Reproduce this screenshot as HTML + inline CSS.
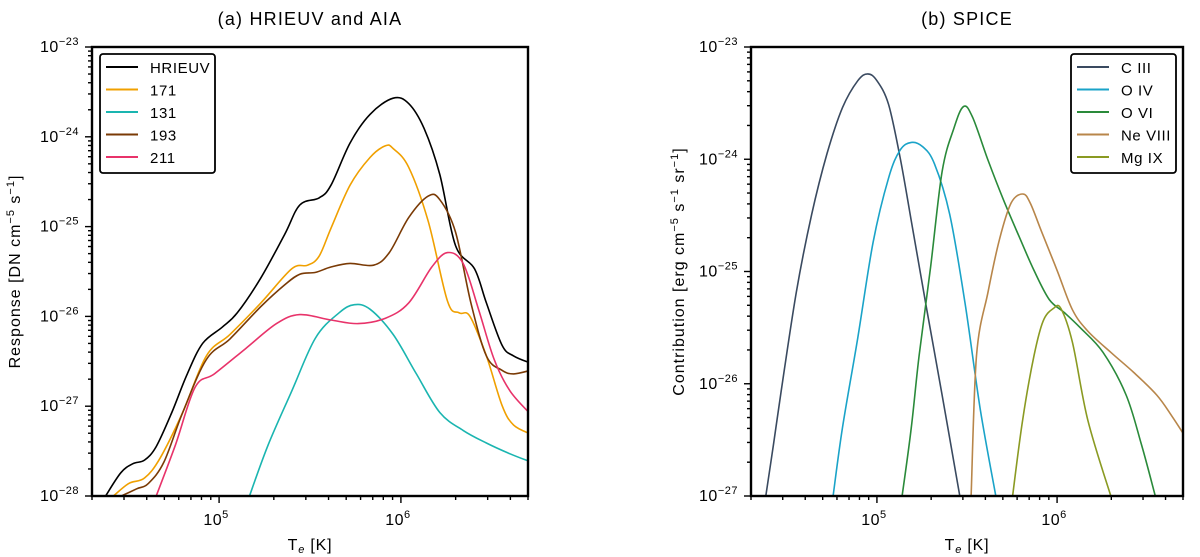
<!DOCTYPE html>
<html><head><meta charset="utf-8"><style>
body{margin:0;background:#fff;}
svg{display:block;font-family:"Liberation Sans",sans-serif;}
</style></head><body>
<svg id="c" width="1200" height="557" viewBox="0 0 1200 557"></svg>
<script>
// ---- Panel (a) data: log10(T) and log10(response) ----
const hriT=[4.376,4.46,4.526,4.59,4.654,4.74,4.825,4.91,5.017,5.10,5.23,5.36,5.444,5.55,5.615,5.72,5.83,5.957,6.043,6.128,6.214,6.30,6.405,6.47,6.556,6.62,6.714];
const hriV=[-28,-27.74,-27.64,-27.6,-27.45,-27.07,-26.64,-26.3,-26.12,-25.96,-25.57,-25.09,-24.76,-24.68,-24.54,-24.07,-23.75,-23.57,-23.63,-23.91,-24.42,-25.21,-25.47,-25.85,-26.32,-26.44,-26.52];
const a171T=[4.419,4.504,4.59,4.675,4.80,4.93,5.06,5.23,5.40,5.487,5.55,5.615,5.72,5.83,5.915,5.957,6.043,6.15,6.256,6.32,6.38,6.47,6.556,6.62,6.714];
const a171V=[-28,-27.86,-27.8,-27.58,-27.07,-26.44,-26.2,-25.85,-25.47,-25.43,-25.33,-25.02,-24.54,-24.23,-24.1,-24.13,-24.34,-24.94,-25.83,-25.96,-26.0,-26.44,-26.99,-27.21,-27.31];
const a131T=[5.167,5.27,5.40,5.53,5.66,5.744,5.83,5.957,6.085,6.214,6.342,6.47,6.6,6.714];
const a131V=[-28,-27.43,-26.83,-26.24,-25.96,-25.87,-25.92,-26.2,-26.64,-27.07,-27.27,-27.41,-27.53,-27.62];
const a193T=[4.462,4.547,4.611,4.697,4.80,4.93,5.06,5.23,5.36,5.444,5.53,5.615,5.72,5.85,5.936,6.043,6.15,6.214,6.30,6.385,6.47,6.556,6.62,6.714];
const a193V=[-28,-27.92,-27.86,-27.62,-27.07,-26.48,-26.25,-25.89,-25.65,-25.53,-25.51,-25.45,-25.41,-25.43,-25.29,-24.90,-24.66,-24.70,-25.06,-25.85,-26.44,-26.6,-26.64,-26.6];
const a211T=[4.654,4.76,4.868,4.974,5.145,5.316,5.444,5.615,5.765,5.915,6.043,6.17,6.256,6.342,6.427,6.513,6.6,6.714];
const a211V=[-28,-27.43,-26.79,-26.64,-26.36,-26.08,-25.98,-26.04,-26.08,-26.02,-25.85,-25.45,-25.29,-25.41,-25.92,-26.48,-26.83,-27.09];
// ---- Panel (b) data ----
const c3T=[4.383,4.426,4.468,4.553,4.638,4.723,4.809,4.894,4.949,5.0,5.064,5.128,5.191,5.277,5.362,5.46];
const c3V=[-27,-26.54,-26.07,-25.18,-24.49,-23.95,-23.54,-23.30,-23.24,-23.30,-23.51,-23.98,-24.55,-25.34,-26.10,-27];
const o4T=[4.757,4.809,4.894,4.979,5.064,5.128,5.191,5.255,5.319,5.404,5.489,5.574,5.66];
const o4V=[-27,-26.39,-25.59,-24.74,-24.17,-23.92,-23.85,-23.89,-24.04,-24.49,-25.28,-26.23,-27];
const o6T=[5.14,5.191,5.234,5.298,5.362,5.426,5.481,5.532,5.617,5.702,5.787,5.872,5.957,6.043,6.128,6.255,6.383,6.468,6.545];
const o6V=[-27,-26.39,-25.75,-24.96,-24.11,-23.73,-23.53,-23.63,-24.01,-24.36,-24.68,-24.99,-25.25,-25.37,-25.5,-25.72,-26.1,-26.54,-27];
const ne8T=[5.523,5.553,5.617,5.681,5.745,5.809,5.851,5.915,6.0,6.085,6.17,6.298,6.426,6.553,6.638,6.715];
const ne8V=[-27,-25.75,-25.18,-24.71,-24.39,-24.31,-24.39,-24.65,-24.99,-25.34,-25.53,-25.72,-25.9,-26.1,-26.29,-26.48];
const mg9T=[5.753,5.809,5.872,5.923,5.979,6.021,6.085,6.17,6.298];
const mg9V=[-27,-26.32,-25.75,-25.44,-25.33,-25.33,-25.63,-26.32,-27];
const seriesA=["HRIEUV","171","131","193","211"];
const seriesB=["C III","O IV","O VI","Ne VIII","Mg IX"];

const NS="http://www.w3.org/2000/svg";
const svg=document.getElementById('c');
function el(tag,attrs,parent){const e=document.createElementNS(NS,tag);for(const k in attrs)e.setAttribute(k,attrs[k]);(parent||svg).appendChild(e);return e;}
const XMIN=Math.log10(2e4),XMAX=Math.log10(5e6),TOP=47,BOT=496;

function smoothPath(P){
  let d='M'+P[0][0].toFixed(1)+','+P[0][1].toFixed(1);
  for(let i=0;i<P.length-1;i++){
    const p0=P[Math.max(0,i-1)],p1=P[i],p2=P[i+1],p3=P[Math.min(P.length-1,i+2)];
    const t=0.17;
    const c1=[p1[0]+(p2[0]-p0[0])*t,p1[1]+(p2[1]-p0[1])*t];
    const c2=[p2[0]-(p3[0]-p1[0])*t,p2[1]-(p3[1]-p1[1])*t];
    d+=' C'+c1.map(v=>v.toFixed(1)).join(',')+' '+c2.map(v=>v.toFixed(1)).join(',')+' '+p2[0].toFixed(1)+','+p2[1].toFixed(1);
  }
  return d;
}

function panel(id,x0,x1,ymin,ymax,title,ytitle,ser,names,colors,leg){
  const g=el('g',{});
  
  
  const sx=v=>x0+(v-XMIN)/(XMAX-XMIN)*(x1-x0);
  const sy=v=>BOT-(v-ymin)/(ymax-ymin)*(BOT-TOP);
  const clipId='clip'+id;
  const cp=el('clipPath',{id:clipId},g);el('rect',{x:x0,y:TOP,width:x1-x0,height:BOT-TOP},cp);
  for(let d=4;d<=6;d++)for(let m=1;m<10;m++){const v=d+Math.log10(m);if(v<XMIN-1e-9||v>XMAX+1e-9)continue;const x=sx(v);
    const t=el('line',{x1:x,x2:x,y1:BOT,y2:BOT+(m==1?7:4),stroke:'#000','stroke-width':1.4},g);
    
    if(m==1){const tx=el('text',{x:x-3,y:BOT+29,'font-size':16,'text-anchor':'middle','letter-spacing':0.5},g);tx.innerHTML='10<tspan dy="-7" font-size="11">'+d+'</tspan>';
      }}
  for(let d=ymin;d<=ymax;d++)for(let m=1;m<10;m++){const v=d+Math.log10(m);if(v>ymax+1e-9)continue;const y=sy(v);
    const t=el('line',{x1:x0-(m==1?7:4),x2:x0,y1:y,y2:y,stroke:'#000','stroke-width':1.4},g);
    
    if(m==1){const tx=el('text',{x:x0-13,y:y+5,'font-size':16,'text-anchor':'end','letter-spacing':0.5},g);tx.innerHTML='10<tspan dy="-7" font-size="11">\u2212'+(-d)+'</tspan>';
      }}
  const lg=el('g',{'clip-path':'url(#'+clipId+')'},g);
  ser.forEach((s,i)=>{const P=s[0].map((t,j)=>[sx(t),sy(s[1][j])]);
    const p=el('path',{d:smoothPath(P),fill:'none',stroke:colors[i],'stroke-width':1.6,'stroke-linejoin':'round'},lg);
    });
  const fr=el('rect',{x:x0,y:TOP,width:x1-x0,height:BOT-TOP,fill:'none',stroke:'#000','stroke-width':2.4},g);
  
  const tt=el('text',{x:(x0+x1)/2,y:25,'font-size':18,'text-anchor':'middle','letter-spacing':1.2},g);tt.textContent=title;
  
  const xt=el('text',{x:(x0+x1)/2,y:550,'font-size':16,'text-anchor':'middle','letter-spacing':0.8},g);xt.innerHTML='T<tspan dy="3" font-size="11" font-style="italic">e</tspan><tspan dy="-3"> [K]</tspan>';
  
  const yt=el('text',{x:0,y:0,'font-size':16,'text-anchor':'middle','letter-spacing':1,transform:'translate('+ytitle[0]+','+(TOP+BOT)/2+') rotate(-90)'},g);yt.innerHTML=ytitle[1];
  
  const L=el('g',{},g);
  el('rect',{x:leg[0],y:54,width:leg[1],height:119,rx:3,fill:'#fff',stroke:'#000','stroke-width':1.8},L);
  names.forEach((n,i)=>{const y=67+i*22.5;
    const e=el('g',{},L);
    el('line',{x1:leg[0]+6,x2:leg[0]+38,y1:y,y2:y,stroke:colors[i],'stroke-width':2},e);
    const t=el('text',{x:leg[0]+50,y:y+6,'font-size':15,'letter-spacing':0.6},e);t.textContent=n;});
}
panel('a',92,528,-28,-23,'(a) HRIEUV and AIA',[20,'Response [DN cm<tspan dy="-6" font-size="11">\u22125</tspan><tspan dy="6"> s</tspan><tspan dy="-6" font-size="11">\u22121</tspan><tspan dy="6">]</tspan>'],
  [[hriT,hriV],[a171T,a171V],[a131T,a131V],[a193T,a193V],[a211T,a211V]],seriesA,
  ['#000','#f0a000','#1ab5b0','#7a3a05','#e8336a'],[100,115]);
panel('b',751,1183,-27,-23,'(b) SPICE',[684,'Contribution [erg cm<tspan dy="-6" font-size="11">\u22125</tspan><tspan dy="6"> s</tspan><tspan dy="-6" font-size="11">\u22121</tspan><tspan dy="6"> sr</tspan><tspan dy="-6" font-size="11">\u22121</tspan><tspan dy="6">]</tspan>'],
  [[c3T,c3V],[o4T,o4V],[o6T,o6V],[ne8T,ne8V],[mg9T,mg9V]],seriesB,
  ['#3a4a60','#1aa3c8','#2a8a3a','#b8864a','#8a9a22'],[1071,105]);
</script>
</body></html>
